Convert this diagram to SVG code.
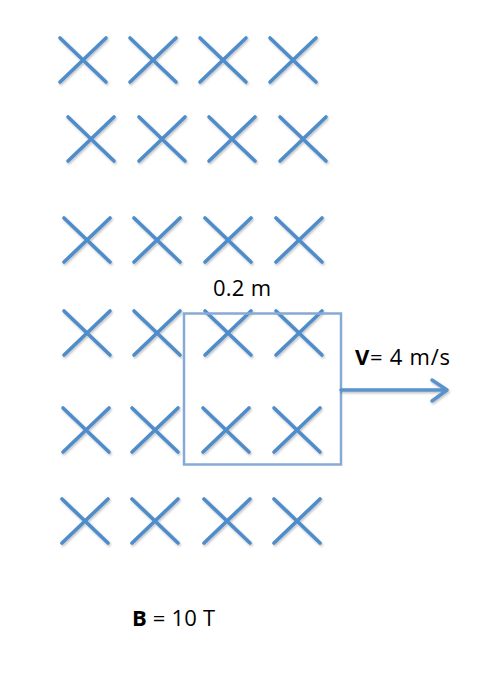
<svg xmlns="http://www.w3.org/2000/svg" xmlns:xlink="http://www.w3.org/1999/xlink" width="494" height="696" viewBox="0 0 494 696">
<style>
.x{fill:none;stroke:#4f8cca;stroke-width:3.6;stroke-linecap:round;filter:url(#sh)}
.loop{fill:none;stroke:#86aad4;stroke-width:2.5}
.arr{fill:none;stroke:#5a92cc;stroke-width:3.5;stroke-linecap:round;stroke-linejoin:round;filter:url(#sh)}
.t{font-family:"Open Sans","Liberation Sans",Arial,sans-serif;font-size:22px;fill:#000}
.b{font-weight:bold}
</style>
<defs>
<filter id="sh" x="-20%" y="-20%" width="140%" height="140%">
<feDropShadow dx="1" dy="1.5" stdDeviation="1" flood-color="#000" flood-opacity="0.25"/>
</filter>
<path id="cr" d="M-23,-22 L23,22 M23,-22 L-23,22"/>
</defs>
<rect width="494" height="696" fill="#fff"/>
<g id="field">
<use href="#cr" class="x" x="83" y="60"/>
<use href="#cr" class="x" x="153" y="60"/>
<use href="#cr" class="x" x="223" y="60"/>
<use href="#cr" class="x" x="293" y="60"/>
<use href="#cr" class="x" x="91" y="139"/>
<use href="#cr" class="x" x="162" y="139"/>
<use href="#cr" class="x" x="232" y="139"/>
<use href="#cr" class="x" x="303" y="139"/>
<use href="#cr" class="x" x="87" y="240"/>
<use href="#cr" class="x" x="157" y="240"/>
<use href="#cr" class="x" x="228" y="240"/>
<use href="#cr" class="x" x="299" y="240"/>
<use href="#cr" class="x" x="87" y="333"/>
<use href="#cr" class="x" x="157" y="333"/>
<use href="#cr" class="x" x="228" y="333"/>
<use href="#cr" class="x" x="299" y="333"/>
<use href="#cr" class="x" x="86" y="430"/>
<use href="#cr" class="x" x="155" y="430"/>
<use href="#cr" class="x" x="226" y="430"/>
<use href="#cr" class="x" x="297" y="430"/>
<use href="#cr" class="x" x="85" y="521"/>
<use href="#cr" class="x" x="155" y="521"/>
<use href="#cr" class="x" x="227" y="521"/>
<use href="#cr" class="x" x="297" y="521"/>
</g>
<g id="loop">
<rect class="loop" x="184" y="313.5" width="157" height="151"/>
</g>
<g id="connectors">
<path class="arr" d="M341,390 L446,390 M432,380 L447,390 L432,401"/>
</g>
<g id="labels">
<text class="t" x="213" y="296" textLength="58" lengthAdjust="spacing">0.2 m</text>
<text class="t" x="355" y="365" textLength="95" lengthAdjust="spacing"><tspan class="b">V</tspan>= 4 m/s</text>
<text class="t" x="132" y="626" textLength="83" lengthAdjust="spacing"><tspan class="b">B</tspan> = 10 T</text>
</g>
</svg>
